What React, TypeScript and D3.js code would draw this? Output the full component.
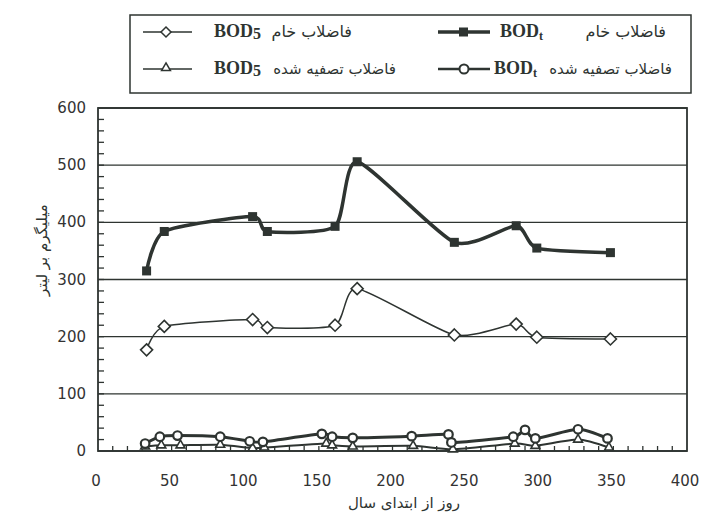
import React from 'react';
import * as d3 from 'd3';

// raw wastewater samples
const rawDays = [33, 45, 105, 115, 161, 176, 242, 284, 298, 348];
const rawBODt = [315, 384, 410, 384, 393, 506, 365, 394, 355, 347];
const rawBOD5 = [177, 218, 230, 216, 220, 284, 203, 222, 199, 196];

// treated effluent samples
const treatedDaysT = [32, 42, 54, 83, 103, 112, 152, 159, 173, 213, 238, 240, 282, 290, 297, 326, 346];
const treatedBODt = [13, 25, 27, 25, 17, 16, 30, 25, 23, 26, 29, 15, 25, 37, 22, 38, 22];
const treatedDays5 = [32, 43, 56, 83, 105, 113, 155, 159, 173, 214, 241, 283, 297, 326, 347];
const treatedBOD5 = [8, 10, 10, 11, 5, 6, 13, 10, 8, 9, 3, 13, 9, 20, 6];

const xTicks = [0, 50, 100, 150, 200, 250, 300, 350, 400];
const yTicks = [0, 100, 200, 300, 400, 500, 600];

const INK = '#2e3431';
const TICK_FONT = '"DejaVu Sans", sans-serif';
const FA_FONT = '"DejaVu Sans", "Noto Sans", sans-serif';
const SERIF = '"Liberation Serif", "DejaVu Serif", serif';

const zip = (xs: number[], ys: number[]) => xs.map((d, i) => [d, ys[i]] as [number, number]);

export default function App() {
  const width = 705;
  const height = 516;

  const x = d3.scaleLinear().domain([0, 400]).range([98, 687]);
  const y = d3.scaleLinear().domain([0, 600]).range([451, 108]);

  const line = d3.line<[number, number]>()
    .x(d => x(d[0]))
    .y(d => y(d[1]))
    .curve(d3.curveCardinal.tension(0.35));

  const rawT = zip(rawDays, rawBODt);
  const raw5 = zip(rawDays, rawBOD5);
  const trT = zip(treatedDaysT, treatedBODt);
  const tr5 = zip(treatedDays5, treatedBOD5);

  const diamond = (cx: number, cy: number, r: number) =>
    `M${cx},${cy - r}L${cx + r},${cy}L${cx},${cy + r}L${cx - r},${cy}Z`;
  const triangle = d3.symbol().type(d3.symbolTriangle).size(34)();

  const minorX = d3.range(10, 400, 10);
  const minorY = d3.range(20, 600, 20);

  const legendRow1 = 37;
  const legendRow2 = 74;

  return (
    <svg width={width} height={height} style={{ position: 'absolute', left: 0, top: 0, background: '#fff' }}>
      {/* legend box */}
      <rect x={130} y={15} width={561} height={78} fill="none" stroke={INK} strokeWidth={1.5} />

      {/* raw BOD5 */}
      <line x1={143} x2={192} y1={legendRow1 - 5} y2={legendRow1 - 5} stroke={INK} strokeWidth={1.5} />
      <path d={diamond(166, legendRow1 - 5, 5)} fill="#fff" stroke={INK} strokeWidth={1.5} />
      <text x={214} y={legendRow1} fontFamily={SERIF} fontWeight="bold" fontSize={18} fill={INK}>
        BOD<tspan fontSize={16} dy={2}>5</tspan>
      </text>
      <text x={352} y={legendRow1} fontFamily={FA_FONT} fontSize={16} textAnchor="end" fill={INK}>فاضلاب خام</text>

      {/* raw BODt */}
      <line x1={438} x2={490} y1={legendRow1 - 5} y2={legendRow1 - 5} stroke={INK} strokeWidth={3.5} />
      <rect x={459} y={legendRow1 - 9.5} width={9} height={9} fill={INK} />
      <text x={500} y={legendRow1} fontFamily={SERIF} fontWeight="bold" fontSize={18} fill={INK}>
        BOD<tspan fontSize={12} dy={3}>t</tspan>
      </text>
      <text x={666} y={legendRow1} fontFamily={FA_FONT} fontSize={16} textAnchor="end" fill={INK}>فاضلاب خام</text>

      {/* treated BOD5 */}
      <line x1={143} x2={192} y1={legendRow2 - 5} y2={legendRow2 - 5} stroke={INK} strokeWidth={1.5} />
      <path d={triangle} transform={`translate(166,${legendRow2 - 6})`} fill="#fff" stroke={INK} strokeWidth={1.5} />
      <text x={214} y={legendRow2} fontFamily={SERIF} fontWeight="bold" fontSize={18} fill={INK}>
        BOD<tspan fontSize={16} dy={2}>5</tspan>
      </text>
      <text x={396} y={legendRow2} fontFamily={FA_FONT} fontSize={15} textAnchor="end" fill={INK}>فاضلاب تصفیه شده</text>

      {/* treated BODt */}
      <line x1={438} x2={490} y1={legendRow2 - 5} y2={legendRow2 - 5} stroke={INK} strokeWidth={2.5} />
      <circle cx={464} cy={legendRow2 - 5} r={4.5} fill="#fff" stroke={INK} strokeWidth={2} />
      <text x={494} y={legendRow2} fontFamily={SERIF} fontWeight="bold" fontSize={18} fill={INK}>
        BOD<tspan fontSize={12} dy={3}>t</tspan>
      </text>
      <text x={672} y={legendRow2} fontFamily={FA_FONT} fontSize={15} textAnchor="end" fill={INK}>فاضلاب تصفیه شده</text>

      {/* gridlines */}
      {yTicks.map(t => (
        <line key={'g' + t} x1={x(0)} x2={x(400)} y1={y(t)} y2={y(t)} stroke={INK} strokeWidth={1.3} />
      ))}
      <rect x={x(0)} y={y(600)} width={x(400) - x(0)} height={y(0) - y(600)} fill="none" stroke={INK} strokeWidth={1.8} />

      {/* minor ticks */}
      {minorX.map(t => (
        <line key={'mx' + t} x1={x(t)} x2={x(t)} y1={y(0)} y2={y(0) - 5} stroke={INK} strokeWidth={1.3} />
      ))}
      {minorY.map(t => (
        <line key={'my' + t} x1={x(0)} x2={x(0) + 6} y1={y(t)} y2={y(t)} stroke={INK} strokeWidth={1.3} />
      ))}

      {/* tick labels */}
      {yTicks.map(t => (
        <text key={'yl' + t} x={86} y={y(t) + 5} textAnchor="end" fontFamily={TICK_FONT} fontSize={15} fill="#333">{t}</text>
      ))}
      {xTicks.map(t => (
        <text key={'xl' + t} x={x(t) - 2} y={486} textAnchor="middle" fontFamily={TICK_FONT} fontSize={15} fill="#333">{t}</text>
      ))}

      {/* axis titles */}
      <text x={404} y={508} textAnchor="middle" fontFamily={FA_FONT} fontSize={15} fill={INK}>روز از ابتدای سال</text>
      <text transform="translate(47,250) rotate(-90)" textAnchor="middle" fontFamily={FA_FONT} fontSize={15} fill={INK}>میلیگرم بر لیتر</text>

      {/* series lines */}
      <path d={line(raw5) ?? ''} fill="none" stroke={INK} strokeWidth={1.5} />
      <path d={line(rawT) ?? ''} fill="none" stroke={INK} strokeWidth={3.5} />
      <path d={line(tr5) ?? ''} fill="none" stroke={INK} strokeWidth={2} />
      <path d={line(trT) ?? ''} fill="none" stroke={INK} strokeWidth={3} />

      {/* markers */}
      {tr5.map((d, i) => (
        <path key={'tr5' + i} d={triangle} transform={`translate(${x(d[0])},${y(d[1])})`} fill="#fff" stroke={INK} strokeWidth={1.6} />
      ))}
      {trT.map((d, i) => (
        <circle key={'trT' + i} cx={x(d[0])} cy={y(d[1])} r={4.3} fill="#fff" stroke={INK} strokeWidth={2.2} />
      ))}
      {raw5.map((d, i) => (
        <path key={'raw5' + i} d={diamond(x(d[0]), y(d[1]), 6)} fill="#fff" stroke={INK} strokeWidth={1.6} />
      ))}
      {rawT.map((d, i) => (
        <rect key={'rawT' + i} x={x(d[0]) - 4.5} y={y(d[1]) - 4.5} width={9} height={9} fill={INK} />
      ))}
    </svg>
  );
}
